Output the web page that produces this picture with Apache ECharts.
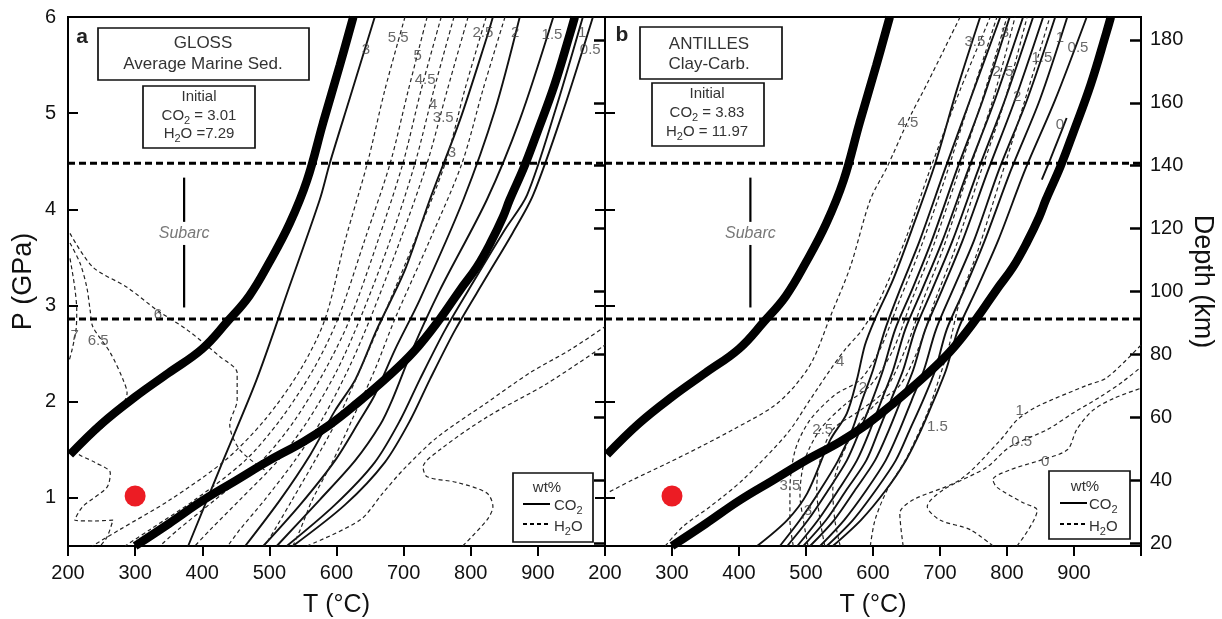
<!DOCTYPE html>
<html>
<head>
<meta charset="utf-8">
<script src="https://cdn.jsdelivr.net/npm/echarts@6/dist/echarts.min.js"></script>
<style>
  html, body { margin: 0; padding: 0; background: #fff; }
  #chart { width: 1222px; height: 619px; }
</style>
</head>
<body>
<div id="chart"></div>
<script>
// ---------- axes ----------
const tempTicks = [200, 300, 400, 500, 600, 700, 800, 900, 1000];
const pressureTicks = [1, 2, 3, 4, 5, 6];
const depthTicks = [20, 40, 60, 80, 100, 120, 140, 160, 180];
const tempRange = [200, 1000];
const pressureRange = [0.5, 6];
const depthRange = [19.05, 187.3];

// ---------- slab-top P-T paths (same in both panels), [T degC, P GPa] ----------
const geothermWarm = [[203,1.45],[250,1.77],[300,2.05],[350,2.3],[400,2.55],[437,2.83],[470,3.1],[500,3.45],[530,3.85],[556,4.3],[580,4.9],[605,5.5],[625,6.0]];
const geothermCold = [[300,0.5],[350,0.73],[400,0.97],[450,1.18],[500,1.39],[550,1.58],[590,1.76],[630,1.98],[675,2.25],[715,2.52],[754,2.86],[785,3.17],[809,3.4],[830,3.66],[848,3.92],[858,4.1],[880,4.45],[899,4.8],[925,5.3],[948,5.83],[955,6.0]];

// reference pressures (dashed horizontal lines) and subarc bar
const refPressures = [2.86, 4.48];
const subarcBarP = [[4.33, 3.87], [3.63, 2.98]];
const subarcLabelP = 3.75;
const subarcT = { a: 373, b: 417 };
const startPoint = [300, 1.02];

// ---------- panel a: GLOSS ----------
const aCO2_30 = [[379,0.5],[430,1.37],[481,2.23],[530,3.2],[575,4.1],[590,4.48],[620,5.16],[657,6.0]];
const aCO2_25 = [[464,0.5],[516,0.98],[561,1.45],[598,1.91],[628,2.23],[660,2.75],[702,3.37],[739,4.1],[784,4.93],[824,5.79],[833,6.0]];
const aCO2_20 = [[491,0.5],[546,0.93],[598,1.39],[635,1.81],[657,2.07],[687,2.54],[724,3.06],[789,4.1],[836,5.03],[873,6.0]];
const aCO2_15 = [[511,0.5],[575,0.98],[628,1.39],[665,1.76],[683,2.02],[713,2.54],[754,3.16],[824,4.1],[873,4.93],[923,6.0]];
const aCO2_10 = [[526,0.5],[598,0.93],[657,1.37],[695,1.81],[724,2.23],[762,2.75],[806,3.27],[851,3.79],[884,4.15],[926,5.03],[967,6.0]];
const aCO2_05 = [[535,0.5],[613,0.93],[672,1.37],[710,1.81],[739,2.23],[777,2.75],[821,3.27],[862,3.75],[893,4.15],[938,5.03],[982,6.0]];

const aH2O_70 = [[203,3.49],[210,3.19],[213,2.95],[212,2.75],[206,2.54],[201,2.41]];
const aH2O_65 = [[203,3.65],[218,3.44],[228,3.19],[233,2.95],[237,2.78],[263,2.51],[282,2.23],[288,2.09],[273,1.89],[248,1.71],[218,1.53],[213,1.48],[240,1.37],[263,1.26],[258,1.11],[222,0.91],[210,0.77],[240,0.76],[267,0.77],[258,0.59],[248,0.5]];
const aH2O_60 = [[203,3.75],[237,3.40],[288,3.19],[333,2.95],[377,2.75],[426,2.47],[452,2.30],[452,2.02],[441,1.76],[456,1.50],[493,1.29]];
const aH2O_55 = [[702,6.0],[672,5.24],[646,4.48],[613,3.68],[583,2.86],[546,2.33],[493,1.81],[434,1.39],[352,0.98],[277,0.67],[236,0.5]];
const aH2O_50 = [[735,6.0],[707,5.24],[680,4.48],[642,3.68],[602,2.86],[565,2.33],[516,1.81],[464,1.39],[389,0.98],[322,0.67],[285,0.5]];
const aH2O_45 = [[756,6.0],[726,5.24],[699,4.48],[662,3.68],[620,2.86],[583,2.33],[538,1.81],[489,1.39],[419,0.98],[364,0.67],[337,0.5]];
const aH2O_40 = [[775,6.0],[745,5.24],[717,4.48],[680,3.68],[635,2.86],[601,2.33],[558,1.81],[513,1.39],[456,0.98],[412,0.67],[389,0.5]];
const aH2O_35 = [[796,6.0],[765,5.24],[735,4.48],[695,3.68],[650,2.86],[617,2.33],[578,1.81],[538,1.39],[493,0.98],[456,0.67],[438,0.5]];
const aH2O_30 = [[823,6.0],[791,5.24],[762,4.48],[717,3.68],[668,2.86],[635,2.33],[601,1.81],[568,1.39],[534,0.98],[508,0.67],[493,0.5]];
const aH2O_25 = [[851,6.0],[818,5.24],[787,4.48],[739,3.68],[687,2.86],[657,2.33],[623,1.81],[595,1.39],[564,0.98],[546,0.67],[535,0.5]];
const aH2O_lowA = [[556,0.5],[635,0.77],[669,1.05],[699,1.29],[750,1.63],[824,1.99],[888,2.30],[948,2.54],[1000,2.78]];
const aH2O_lowB = [[788,0.5],[824,0.77],[833,0.91],[824,1.05],[780,1.16],[735,1.22],[729,1.32],[754,1.50],[824,1.84],[914,2.19],[1000,2.59]];

const aLabels = [[644,5.66,'3'],[692,5.78,'5.5'],[721,5.60,'5'],[732,5.35,'4.5'],[744,5.09,'4'],[759,4.95,'3.5'],[772,4.59,'3'],[818,5.84,'2.5'],[866,5.84,'2'],[921,5.81,'1.5'],[966,5.84,'1'],[978,5.66,'0.5'],[334,2.90,'6'],[245,2.63,'6.5'],[210,2.69,'7']];

// ---------- panel b: ANTILLES ----------
const bCO2_35 = [[427,0.5],[472,0.77],[502,1.05],[536,1.6],[561,1.88],[576,2.23],[588,2.59],[603,2.86],[630,3.27],[658,3.79],[693,4.48],[725,5.24],[760,6.0]];
const bCO2_30 = [[461,0.5],[491,0.77],[521,1.08],[548,1.39],[569,1.71],[584,2.02],[600,2.33],[618,2.75],[640,3.16],[670,3.68],[707,4.41],[745,5.14],[790,6.0]];
const bCO2_27 = [[472,0.5],[503,0.77],[533,1.08],[561,1.39],[581,1.71],[599,2.02],[615,2.33],[633,2.75],[658,3.16],[688,3.68],[725,4.41],[764,5.14],[804,6.0]];
const bCO2_25 = [[487,0.5],[518,0.77],[548,1.08],[576,1.39],[596,1.71],[613,2.02],[630,2.33],[648,2.75],[673,3.16],[704,3.68],[742,4.41],[782,5.14],[824,6.0]];
const bCO2_22 = [[496,0.5],[530,0.77],[560,1.08],[590,1.39],[609,1.71],[627,2.02],[645,2.33],[663,2.75],[688,3.16],[719,3.68],[757,4.41],[797,5.14],[839,6.0]];
const bCO2_20 = [[506,0.5],[542,0.77],[573,1.08],[603,1.39],[624,1.71],[642,2.02],[660,2.33],[678,2.75],[703,3.16],[734,3.68],[772,4.41],[812,5.14],[854,6.0]];
const bCO2_15 = [[521,0.5],[557,0.77],[590,1.08],[619,1.39],[640,1.71],[658,2.02],[676,2.33],[694,2.75],[719,3.16],[751,3.68],[788,4.41],[830,5.14],[872,6.0]];
const bCO2_10 = [[531,0.5],[570,0.77],[604,1.08],[634,1.39],[655,1.71],[675,2.02],[693,2.33],[710,2.75],[736,3.16],[767,3.68],[806,4.41],[849,5.14],[890,6.0]];
const bCO2_05 = [[540,0.5],[582,0.77],[619,1.08],[649,1.39],[672,1.71],[691,2.02],[709,2.33],[727,2.75],[754,3.16],[787,3.68],[827,4.41],[872,5.14],[919,6.0]];
const bCO2_00 = [[889,4.95],[876,4.72],[864,4.51],[852,4.31]];

const bH2O_45 = [[730,6.0],[681,5.31],[655,4.96],[621,4.44],[596,4.10],[566,3.40],[536,2.88],[510,2.43],[484,2.17],[451,1.95],[391,1.71],[342,1.53],[293,1.36],[242,1.19],[203,1.05]];
const bH2O_40 = [[290,0.5],[316,0.70],[357,0.91],[406,1.19],[472,1.67],[506,2.02],[536,2.33],[558,2.54],[584,2.75],[610,3.06],[648,3.68],[685,4.41],[730,5.24],[775,6.0]];
const bH2O_35 = [[481,0.5],[476,0.77],[476,1.08],[484,1.50],[506,1.81],[543,2.07],[581,2.23],[610,2.54],[640,3.06],[670,3.58],[707,4.31],[745,5.14],[785,6.0]];
const bH2O_30 = [[503,0.5],[496,0.77],[491,1.03],[498,1.39],[521,1.71],[558,1.97],[596,2.17],[630,2.54],[658,3.06],[688,3.58],[724,4.31],[763,5.14],[800,6.0]];
const bH2O_25 = [[528,0.5],[521,0.77],[516,1.08],[521,1.39],[540,1.71],[581,1.91],[618,2.12],[648,2.54],[675,3.06],[704,3.58],[739,4.31],[779,5.14],[812,6.0]];
const bH2O_20 = [[551,0.5],[543,0.77],[540,1.08],[551,1.39],[573,1.71],[603,1.97],[640,2.17],[667,2.54],[693,3.06],[722,3.58],[757,4.31],[797,5.14],[830,6.0]];
const bH2O_15 = [[596,0.5],[603,0.77],[621,1.08],[648,1.39],[663,1.60],[681,1.88],[693,2.12],[712,2.54],[730,3.06],[757,3.58],[790,4.31],[827,5.14],[864,6.0]];
const bH2O_10 = [[645,0.5],[640,0.84],[660,0.98],[730,1.19],[790,1.60],[815,1.81],[845,1.95],[919,2.17],[949,2.25],[1000,2.59]];
const bH2O_05 = [[779,0.5],[745,0.67],[700,0.77],[681,0.91],[704,1.08],[770,1.32],[804,1.53],[860,1.71],[898,1.88],[939,2.05],[973,2.21],[1000,2.36]];
const bH2O_00 = [[815,0.5],[845,0.87],[824,0.95],[785,1.11],[779,1.19],[804,1.29],[849,1.39],[890,1.50],[904,1.71],[928,1.91],[961,2.04],[1000,2.14]];

const bLabels = [[752,5.74,'3.5'],[797,5.83,'3'],[794,5.43,'2.5'],[815,5.17,'2'],[852,5.58,'1.5'],[879,5.78,'1'],[906,5.68,'0.5'],[879,4.88,'0'],[652,4.90,'4.5'],[551,2.41,'4'],[585,2.14,'2'],[525,1.71,'2.5'],[476,1.13,'3.5'],[503,0.87,'3'],[696,1.74,'1.5'],[819,1.91,'1'],[822,1.58,'0.5'],[857,1.37,'0']];

// ---------- styling ----------
const FONT = "'Liberation Sans', Arial, Helvetica, sans-serif";
const INK = '#111';
const GREY = '#444';

const yIndexOf = [0, 3]; // pressure axis of each panel

function curve(data, panel, kind) {
  const styles = {
    geo: { width: 8.5, type: 'solid', color: '#000' },
    co2: { width: 1.9, type: 'solid', color: INK },
    h2o: { width: 1.2, type: [4, 3], color: '#222' },
    ref: { width: 3, type: [7, 4], color: '#000' },
    bar: { width: 2.2, type: 'solid', color: '#000' }
  };
  return {
    type: 'line', xAxisIndex: panel, yAxisIndex: yIndexOf[panel],
    data: data, showSymbol: false, symbol: 'none', silent: true,
    smooth: kind === 'h2o' || kind === 'co2' ? 0.3 : (kind === 'geo' ? 0.4 : false),
    lineStyle: styles[kind], z: kind === 'geo' ? 5 : (kind === 'ref' ? 4 : 3),
    animation: false
  };
}

function textMarks(data, panel, style) {
  return {
    type: 'scatter', xAxisIndex: panel, yAxisIndex: yIndexOf[panel],
    data: data, symbol: 'circle', symbolSize: 1, silent: true,
    itemStyle: { color: 'rgba(0,0,0,0)' },
    label: Object.assign({
      show: true, position: 'inside', formatter: p => p.data[2],
      fontFamily: FONT, fontSize: 15, color: GREY
    }, style || {}),
    z: 8, animation: false
  };
}

const series = [];
[0, 1].forEach(panel => {
  series.push(curve(geothermWarm, panel, 'geo'));
  series.push(curve(geothermCold, panel, 'geo'));
  refPressures.forEach(p => series.push(curve([[tempRange[0], p], [tempRange[1], p]], panel, 'ref')));
  const t = panel === 0 ? subarcT.a : subarcT.b;
  subarcBarP.forEach(seg => series.push(curve([[t, seg[0]], [t, seg[1]]], panel, 'bar')));
  series.push(textMarks([[t, subarcLabelP, 'Subarc']], panel, { fontStyle: 'italic', fontSize: 16, color: '#555' }));
  series.push({
    type: 'scatter', xAxisIndex: panel, yAxisIndex: yIndexOf[panel],
    data: [startPoint], symbolSize: 21, silent: true,
    itemStyle: { color: '#ec1c24', opacity: 1 }, z: 9, animation: false
  });
});

[aCO2_30, aCO2_25, aCO2_20, aCO2_15, aCO2_10, aCO2_05].forEach(d => series.push(curve(d, 0, 'co2')));
[aH2O_70, aH2O_65, aH2O_60, aH2O_55, aH2O_50, aH2O_45, aH2O_40, aH2O_35, aH2O_30, aH2O_25, aH2O_lowA, aH2O_lowB]
  .forEach(d => series.push(curve(d, 0, 'h2o')));
[bCO2_35, bCO2_30, bCO2_27, bCO2_25, bCO2_22, bCO2_20, bCO2_15, bCO2_10, bCO2_05, bCO2_00].forEach(d => series.push(curve(d, 1, 'co2')));
[bH2O_45, bH2O_40, bH2O_35, bH2O_30, bH2O_25, bH2O_20, bH2O_15, bH2O_10, bH2O_05, bH2O_00]
  .forEach(d => series.push(curve(d, 1, 'h2o')));
series.push(textMarks(aLabels, 0));
series.push(textMarks(bLabels, 1));

// ---------- axes ----------
function tempAxis(grid) {
  return {
    type: 'value', gridIndex: grid, min: tempRange[0], max: tempRange[1], interval: 100,
    name: 'T (°C)', nameLocation: 'middle', nameGap: 47,
    nameTextStyle: { fontFamily: FONT, fontSize: 25, color: INK },
    axisLine: { show: true, lineStyle: { color: '#000', width: 2 } },
    axisTick: { show: true, inside: false, length: 10, lineStyle: { color: '#000', width: 2 } },
    axisLabel: { fontFamily: FONT, fontSize: 20, color: INK, margin: 17, formatter: v => (v === 1000 ? '' : String(v)) },
    splitLine: { show: false }
  };
}
function pressureAxis(grid, position, labels, name) {
  return {
    type: 'value', gridIndex: grid, position: position, min: pressureRange[0], max: pressureRange[1],
    name: name || '', nameLocation: 'middle', nameGap: 31, nameRotate: 90,
    nameTextStyle: { fontFamily: FONT, fontSize: 27, color: INK },
    axisLine: { show: true, lineStyle: { color: '#000', width: 2 } },
    axisTick: { show: true, inside: true, length: 10, customValues: pressureTicks, lineStyle: { color: '#000', width: 2 } },
    axisLabel: { show: labels, customValues: pressureTicks, fontFamily: FONT, fontSize: 20, color: INK, margin: 12 },
    splitLine: { show: false }
  };
}
function depthAxis(grid, labels, name) {
  return {
    type: 'value', gridIndex: grid, position: 'right', min: depthRange[0], max: depthRange[1],
    name: name || '', nameLocation: 'middle', nameGap: 48, nameRotate: -90,
    nameTextStyle: { fontFamily: FONT, fontSize: 27, color: INK },
    axisLine: { show: true, lineStyle: { color: '#000', width: 2 } },
    axisTick: { show: true, inside: true, length: 11, customValues: depthTicks, lineStyle: { color: '#000', width: 2.5 } },
    axisLabel: { show: labels, customValues: depthTicks, fontFamily: FONT, fontSize: 20, color: INK, margin: 9 },
    splitLine: { show: false }
  };
}

// ---------- annotation boxes ----------
function rect(x, y, w, h) {
  return { type: 'rect', shape: { x: x, y: y, width: w, height: h },
    style: { fill: '#fff', stroke: '#111', lineWidth: 1.7 }, z: 50, silent: true };
}
function label(x, y, text, size, extra) {
  return { type: 'text', x: x, y: y, z: 51, silent: true,
    style: Object.assign({ text: text, font: size + 'px ' + FONT, fill: '#333',
      align: 'center', verticalAlign: 'middle', textAlign: 'center', textVerticalAlign: 'middle' }, extra || {}) };
}
function chem(x, y, pre, sub, post, size, align) {
  const sz = size || 15;
  return { type: 'text', x: x, y: y, z: 51, silent: true,
    style: {
      text: '{n|' + pre + '}{s|' + sub + '}{n|' + post + '}',
      align: align || 'center', textAlign: align || 'center', verticalAlign: 'middle', textVerticalAlign: 'middle',
      rich: {
        n: { fontSize: sz, fontFamily: FONT, fill: '#333', color: '#333', lineHeight: 16 },
        s: { fontSize: sz - 4, fontFamily: FONT, fill: '#333', color: '#333', lineHeight: 21, verticalAlign: 'bottom' }
      }
    } };
}
function line(x1, y1, x2, y2, dash) {
  return { type: 'line', shape: { x1: x1, y1: y1, x2: x2, y2: y2 }, z: 51, silent: true,
    style: { stroke: '#000', lineWidth: 2, lineDash: dash || null } };
}

const graphics = [
  // panel a
  label(82, 37, 'a', 21, { font: 'bold 21px ' + FONT, fill: '#222' }),
  rect(98, 28, 211, 52),
  label(203, 43, 'GLOSS', 17),
  label(203, 64, 'Average Marine Sed.', 17),
  rect(143, 86, 112, 62),
  label(199, 97, 'Initial', 15),
  chem(199, 116, 'CO', '2', ' = 3.01'),
  chem(199, 134, 'H', '2', 'O =7.29'),
  rect(513, 473, 80, 69),
  label(547, 488, 'wt%', 15),
  line(523, 504, 550, 504),
  chem(554, 506, 'CO', '2', '', 15, 'left'),
  line(523, 524, 550, 524, [4, 3]),
  chem(554, 527, 'H', '2', 'O', 15, 'left'),
  // panel b
  label(622, 35, 'b', 21, { font: 'bold 21px ' + FONT, fill: '#222' }),
  rect(640, 27, 142, 52),
  label(709, 44, 'ANTILLES', 17),
  label(709, 64, 'Clay-Carb.', 17),
  rect(652, 83, 112, 63),
  label(707, 94, 'Initial', 15),
  chem(707, 113, 'CO', '2', ' = 3.83'),
  chem(707, 132, 'H', '2', 'O = 11.97'),
  rect(1049, 471, 81, 68),
  label(1085, 487, 'wt%', 15),
  line(1060, 503, 1087, 503),
  chem(1089, 505, 'CO', '2', '', 15, 'left'),
  line(1060, 524, 1087, 524, [4, 3]),
  chem(1089, 527, 'H', '2', 'O', 15, 'left')
];

const chart = echarts.init(document.getElementById('chart'), null, { renderer: 'canvas' });
chart.setOption({
  backgroundColor: '#fff',
  animation: false,
  grid: [
    { left: 68, top: 17, width: 537, height: 529, outerBoundsMode: 'none', show: true, borderColor: '#000', borderWidth: 2, backgroundColor: 'transparent' },
    { left: 605, top: 17, width: 536, height: 529, outerBoundsMode: 'none', show: true, borderColor: '#000', borderWidth: 2, backgroundColor: 'transparent' }
  ],
  xAxis: [tempAxis(0), tempAxis(1)],
  yAxis: [
    pressureAxis(0, 'left', true, 'P (GPa)'),
    pressureAxis(0, 'right', false),
    depthAxis(0, false),
    pressureAxis(1, 'left', false),
    depthAxis(1, true, 'Depth (km)')
  ],
  series: series,
  graphic: graphics
});
</script>
</body>
</html>
